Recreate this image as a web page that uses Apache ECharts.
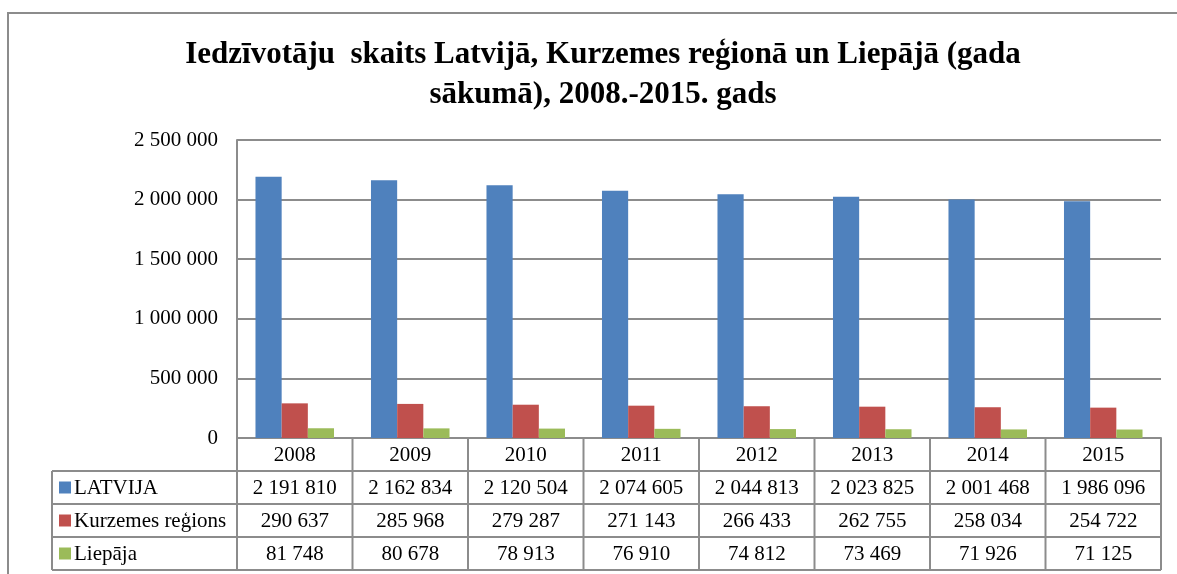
<!DOCTYPE html>
<html>
<head>
<meta charset="utf-8">
<script src="https://cdn.jsdelivr.net/npm/echarts@6/dist/echarts.min.js"></script>
<style>
  html, body { margin: 0; padding: 0; background: #fff; }
  #chart { width: 1177px; height: 574px; }
</style>
</head>
<body>
<div id="chart"></div>
<script>
var years = ['2008', '2009', '2010', '2011', '2012', '2013', '2014', '2015'];
var seriesNames = ['LATVIJA', 'Kurzemes reģions', 'Liepāja'];
var latvija = [2191810, 2162834, 2120504, 2074605, 2044813, 2023825, 2001468, 1986096];
var kurzeme = [290637, 285968, 279287, 271143, 266433, 262755, 258034, 254722];
var liepaja = [81748, 80678, 78913, 76910, 74812, 73469, 71926, 71125];
var colors = ['#4F81BD', '#C0504D', '#9BBB59'];

function fmt(v) {
  return String(v).replace(/\B(?=(\d{3})+(?!\d))/g, ' ');
}

var font = 'Liberation Serif',
  lineColor = '#8c8c8c',
  gridLeft = 237,
  gridRight = 1161,
  gridBottom = 438,
  rowH = 33;

var myChart = echarts.init(document.getElementById('chart'));

var option = {
  animation: false,
  title: {
    text: 'Iedzīvotāju  skaits Latvijā, Kurzemes reģionā un Liepājā (gada\nsākumā), 2008.-2015. gads',
    left: 598,
    top: 30,
    textAlign: 'center',
    textStyle: {
      fontFamily: font,
      fontWeight: 'bold',
      fontSize: 31,
      lineHeight: 40,
      color: '#000'
    }
  },
  grid: {
    left: gridLeft,
    right: 1177 - gridRight,
    top: 140,
    bottom: 574 - gridBottom
  },
  xAxis: {
    type: 'category',
    data: years,
    axisLabel: { show: false },
    axisTick: { show: false },
    axisLine: { lineStyle: { color: lineColor, width: 2 } }
  },
  yAxis: {
    type: 'value',
    min: 0,
    max: 2500000,
    interval: 500000,
    axisLine: { show: true, lineStyle: { color: lineColor, width: 2 } },
    axisTick: { show: false },
    splitLine: { lineStyle: { color: lineColor, width: 2 } },
    axisLabel: {
      margin: 19,
      fontFamily: font,
      fontSize: 21,
      color: '#000',
      formatter: function (v) { return fmt(v); }
    }
  },
  series: [latvija, kurzeme, liepaja].map(function (d, i) {
    return {
      name: seriesNames[i],
      type: 'bar',
      data: d,
      barGap: '0%',
      barCategoryGap: '32%',
      itemStyle: { color: colors[i] }
    };
  })
};
myChart.setOption(option);

// data table below the plot
var table = [latvija, kurzeme, liepaja],
  colW = (gridRight - gridLeft) / years.length,
  tableLeft = 52,
  tableBottom = gridBottom + rowH * 4,
  g = [];

function line(x1, y1, x2, y2) {
  g.push({
    type: 'line',
    shape: { x1: x1, y1: y1, x2: x2, y2: y2 },
    style: { stroke: lineColor, lineWidth: 2 }
  });
}

function text(x, y, s, align) {
  g.push({
    type: 'text',
    x: x,
    y: y,
    style: {
      text: s,
      font: '21px "' + font + '"',
      fill: '#000',
      align: align || 'center',
      verticalAlign: 'middle'
    }
  });
}

// outer border of the chart area
g.push({
  type: 'rect',
  shape: { x: 8, y: 13, width: 1180, height: 600 },
  style: { fill: 'none', stroke: lineColor, lineWidth: 2 }
});

for (var r = 1; r <= 4; r++) {
  line(tableLeft, gridBottom + rowH * r, gridRight, gridBottom + rowH * r);
}
line(tableLeft, gridBottom + rowH, tableLeft, tableBottom);
for (var c = 0; c <= years.length; c++) {
  var x = gridLeft + colW * c;
  line(x, gridBottom, x, tableBottom);
}

years.forEach(function (y, i) {
  var cx = myChart.convertToPixel({ xAxisIndex: 0 }, i);
  text(cx, gridBottom + rowH / 2 + 1, y);
  table.forEach(function (d, s) {
    text(cx, gridBottom + rowH * (s + 1.5) + 1, fmt(d[i]));
  });
});

seriesNames.forEach(function (n, s) {
  var cy = gridBottom + rowH * (s + 1.5);
  g.push({
    type: 'rect',
    shape: { x: 59, y: cy - 6, width: 12, height: 12 },
    style: { fill: colors[s] }
  });
  text(74, cy + 1, n, 'left');
});

myChart.setOption({ graphic: g });
</script>
</body>
</html>
